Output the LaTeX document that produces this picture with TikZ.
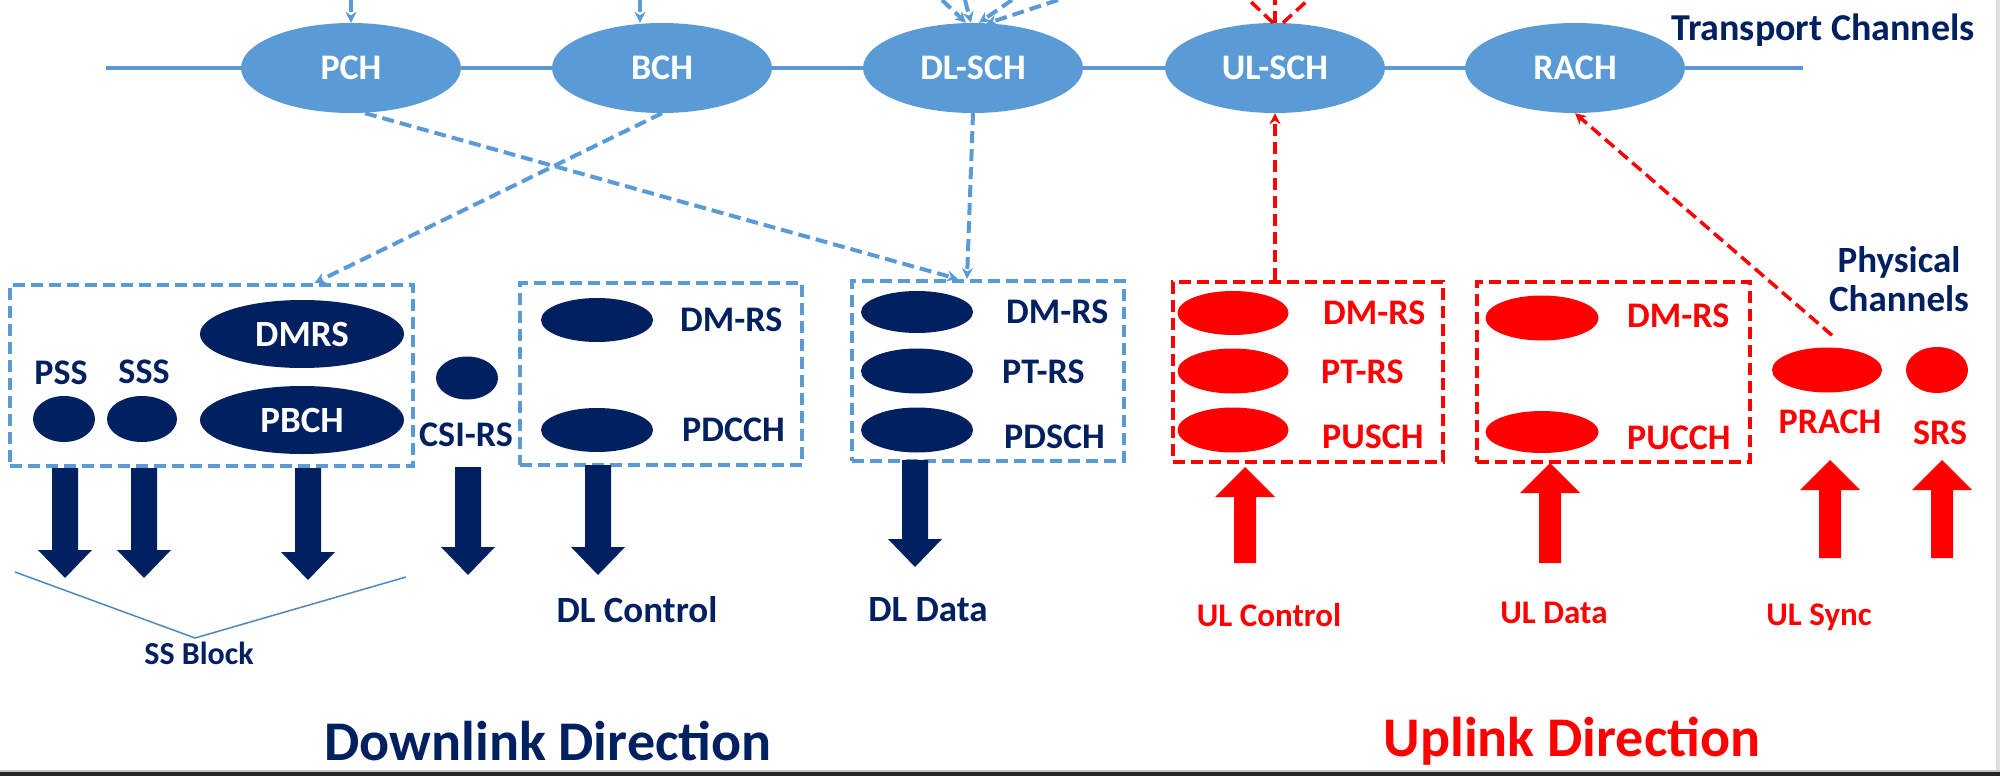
\documentclass[tikz,border=0pt]{standalone}
\usepackage{fontspec}
\setmainfont{Carlito}
\usetikzlibrary{shapes.geometric,arrows.meta}
\definecolor{navy}{RGB}{0,32,96}
\definecolor{tblue}{RGB}{91,155,213}
\definecolor{ured}{RGB}{255,0,0}
\definecolor{brk}{RGB}{80,135,190}
\newcommand\fs[1]{\fontsize{#1}{#1}\selectfont\bfseries}
\newcommand\dnarr[3]{\fill[navy] ({#1-13},#2) -- ({#1+13},#2) -- ({#1+13},{#3-28}) -- ({#1+27},{#3-28}) -- (#1,#3) -- ({#1-27},{#3-28}) -- ({#1-13},{#3-28}) -- cycle;}
\newcommand\uparr[3]{\fill[ured] ({#1-11},#3) -- ({#1+11},#3) -- ({#1+11},{#2+30}) -- ({#1+30},{#2+30}) -- (#1,#2) -- ({#1-30},{#2+30}) -- ({#1-11},{#2+30}) -- cycle;}
\begin{document}
\begin{tikzpicture}[x=1pt,y=-1pt,
  tch/.style={ellipse, fill=tblue, minimum width=220pt, minimum height=90pt, inner sep=0pt, text=white, font=\fs{36}},
  nel/.style={ellipse, fill=navy, inner sep=0pt, text=white, font=\fs{37}},
  rel/.style={ellipse, fill=ured, inner sep=0pt},
  sz/.style 2 args={minimum width=#1pt, minimum height=#2pt},
  lbl/.style={text=navy, font=\fs{36}, inner sep=0pt},
  rlbl/.style={text=ured, font=\fs{36}, inner sep=0pt},
  ulbl/.style={text=ured, font=\fs{33}, inner sep=0pt},
  bbox/.style={draw=tblue, line width=4pt, dash pattern=on 12pt off 6pt, inner sep=0pt},
  rbox/.style={draw=ured, line width=4pt, dash pattern=on 12pt off 6pt, inner sep=0pt},
  bconn/.style={draw=tblue, line width=4pt, dash pattern=on 12pt off 6pt, -{Stealth[length=11pt,width=11pt]}},
  rconn/.style={draw=ured, line width=3.5pt, dash pattern=on 12pt off 6pt, -{Stealth[length=11pt,width=11pt]}},
  rline/.style={draw=ured, line width=3.5pt, dash pattern=on 12pt off 6pt},
]
\useasboundingbox (0,0) rectangle (2000,776);
\fill[white] (0,0) rectangle (2000,776);
\fill[gray!45] (0,770) rectangle (2000,772);
\fill[black!85] (0,772) rectangle (2000,776);
\fill[gray!25] (1996,0) rectangle (2000,770);

% transport line
\coordinate (tl1) at (106,68);
\coordinate (tl2) at (1803,68);
\draw[tblue, line width=4pt] (tl1) -- (tl2);

% transport channels
\node[tch] (pch) at (351,68) {PCH};
\node[tch] (bch) at (662,68) {BCH};
\node[tch] (dlsch) at (973,68) {DL-SCH};
\node[tch] (ulsch) at (1275,68) {UL-SCH};
\node[tch] (rach) at (1575,68) {RACH};
\node[text=navy, font=\fs{38}, inner sep=0pt] (tclbl) at (1823,30) {Transport Channels};

% incoming from top
\coordinate (pchin) at (351,0);
\coordinate (bchin) at (640,0);
\draw[bconn] (pchin) -- (pch.north);
\draw[bconn] (bchin) -- (bchin |- bch.north);
\coordinate (d1) at (942,0);
\coordinate (d2) at (965,0);
\coordinate (d3) at (1012,0);
\coordinate (d4) at (1058,0);
\draw[bconn] (d1) -- ([xshift=-7pt]dlsch.north);
\draw[bconn] (d2) -- ([xshift=-2pt]dlsch.north);
\draw[bconn] (d3) -- ([xshift=6pt]dlsch.north);
\draw[bconn] (d4) -- ([xshift=13pt,yshift=-1pt]dlsch.north);
\coordinate (u1) at (1249,0);
\coordinate (u2) at (1275,0);
\coordinate (u3) at (1308,0);
\draw[rline] ([xshift=-2pt]ulsch.north) -- (u1);
\draw[rline] (ulsch.north) -- (u2);
\draw[rline] ([xshift=8pt]ulsch.north) -- (u3);

% physical channel boxes
\node[bbox, minimum width=403pt, minimum height=181pt] (ssbox) at (211.5,375.5) {};
\node[bbox, minimum width=282pt, minimum height=182pt] (dlcbox) at (661,374) {};
\node[bbox, minimum width=272pt, minimum height=180pt] (dldbox) at (988,371) {};
\node[rbox, minimum width=270pt, minimum height=180pt] (ulcbox) at (1308,372) {};
\node[rbox, minimum width=273pt, minimum height=180pt] (uldbox) at (1613.5,372) {};

% SS block contents
\node[lbl] (pssl) at (61,373) {PSS};
\node[lbl] (sssl) at (144,372) {SSS};
\node[nel, sz={62}{46}] (pss) at (64,419) {};
\node[nel, sz={70}{46}] (sss) at (142,419) {};
\node[nel, sz={204}{68}] (dmrs) at (302,334) {DMRS};
\node[nel, sz={204}{68}] (pbch) at (302,420) {PBCH};
\node[nel, sz={62}{43}] (csi) at (467,378) {};
\node[lbl] (csil) at (466,435) {CSI-RS};

% DL control
\node[nel, sz={112}{44}] (dlc1) at (597,320) {};
\node[nel, sz={112}{44}] (dlc2) at (597,430) {};
\node[lbl, anchor=west] (dlc1l) at (680,320) {DM-RS};
\node[lbl, anchor=west] (dlc2l) at (682,430) {PDCCH};

% DL data
\node[nel, sz={112}{42}] (dld1) at (917,312) {};
\node[nel, sz={112}{45}] (dld2) at (917,371) {};
\node[nel, sz={112}{45}] (dld3) at (917,430) {};
\node[lbl, anchor=west] (dld1l) at (1006,312) {DM-RS};
\node[lbl, anchor=west] (dld2l) at (1002,372) {PT-RS};
\node[lbl, anchor=west] (dld3l) at (1004,437) {PDSCH};

% UL control
\node[rel, sz={111}{44}] (ulc1) at (1233,313) {};
\node[rel, sz={111}{45}] (ulc2) at (1233,371) {};
\node[rel, sz={111}{45}] (ulc3) at (1233,430) {};
\node[rlbl, anchor=west] (ulc1l) at (1323,313) {DM-RS};
\node[rlbl, anchor=west] (ulc2l) at (1321,372) {PT-RS};
\node[rlbl, anchor=west] (ulc3l) at (1322,437) {PUSCH};

% UL data
\node[rel, sz={113}{45}] (uld1) at (1542,318) {};
\node[rel, sz={113}{42}] (uld2) at (1542,432) {};
\node[rlbl, anchor=west] (uld1l) at (1627,316) {DM-RS};
\node[rlbl, anchor=west] (uld2l) at (1627,438) {PUCCH};

% PRACH / SRS
\node[rel, sz={110}{45}] (prach) at (1827,370) {};
\node[rel, sz={62}{46}] (srs) at (1937,370) {};
\node[rlbl] (prachl) at (1830,422) {PRACH};
\node[rlbl] (srsl) at (1940,433) {SRS};
\node[text=navy, font=\fs{37}, inner sep=0pt, align=center] (pclbl) at (1899,279) {Physical\\[2pt]Channels};

% transport-physical connectors
\draw[bconn] ([xshift=14pt]pch.south) -- ([xshift=-30pt]dldbox.north);
\draw[bconn] (dlsch.south) -- ([xshift=-21pt]dldbox.north);
\draw[bconn] (bch.south) -- ([xshift=103pt]ssbox.north);
\draw[rconn] ([xshift=-33pt]ulcbox.north) -- (ulsch.south);
\draw[rconn] ([xshift=5pt,yshift=12pt]prach.north) -- (rach.south);

% block arrows
\dnarr{65}{468}{578}
\dnarr{144}{468}{578}
\dnarr{308}{468}{580}
\dnarr{468}{467}{575}
\dnarr{598}{465}{575}
\dnarr{915}{460}{567}
\uparr{1245}{467}{563}
\uparr{1550}{463}{563}
\uparr{1830}{460}{558}
\uparr{1942}{460}{558}

% SS block bracket
\coordinate (bk1) at (15,572);
\coordinate (bk2) at (195,638);
\coordinate (bk3) at (406,577);
\draw[brk, line width=1.5pt] (bk1) -- (bk2) -- (bk3);
\node[lbl, font=\fs{32}] (ssbl) at (199,653) {SS Block};

% bottom labels
\node[lbl, font=\fs{37}] (dlcl) at (637,610) {DL Control};
\node[lbl, font=\fs{37}] (dldl) at (928,610) {DL Data};
\node[ulbl] (ulcl) at (1269,615) {UL Control};
\node[ulbl] (uldl) at (1554,613) {UL Data};
\node[ulbl] (ulsl) at (1819,617) {UL Sync};

\node[text=navy, font=\fs{56}, inner sep=0pt] (dld) at (548,741) {Downlink Direction};
\node[text=ured, font=\fs{56}, inner sep=0pt] (uld) at (1572,741) {Uplink Direction};
\end{tikzpicture}
\end{document}
